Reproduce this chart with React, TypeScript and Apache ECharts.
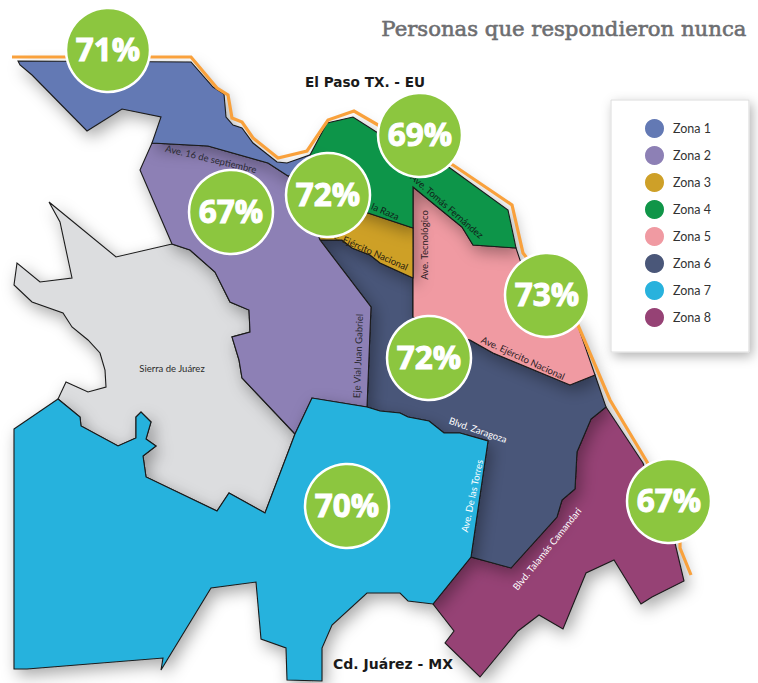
import React, { useEffect, useRef } from "react";
import * as echarts from "echarts";

type P = [number, number];

const zoneNames = ["Zona 1", "Zona 2", "Zona 3", "Zona 4", "Zona 5", "Zona 6", "Zona 7", "Zona 8"];
const zoneColors = ["#6379B4", "#8D80B5", "#CEA028", "#109548", "#F09AA2", "#4A5779", "#28B2DD", "#964275"];
const zonePercents = [71, 67, 72, 69, 73, 72, 70, 67];
const bubbleCenters: P[] = [[108, 50], [231, 212], [328, 195], [420, 135], [547, 295], [429, 358], [347, 506], [669, 501]];

const zone1Outline: P[] = [[18, 61], [191, 62], [213, 87], [224, 94], [226, 117], [233, 125], [242, 128], [253, 143], [277, 162], [287, 163], [310, 155], [320, 165], [288, 176], [268, 163], [208, 146], [152, 143], [161, 117], [122, 109], [87, 131], [32, 75], [20, 65]];
const zone2Outline: P[] = [[152, 143], [208, 146], [268, 163], [288, 176], [300, 190], [320, 240], [371, 307], [367, 407], [312, 398], [295, 434], [242, 378], [239, 360], [232, 337], [250, 332], [249, 310], [230, 302], [215, 272], [190, 250], [172, 244], [140, 170]];
const zone3Outline: P[] = [[320, 240], [342, 240], [352, 248], [370, 255], [380, 263], [413, 278], [413, 228], [368, 213], [330, 200], [310, 215]];
const zone4Outline: P[] = [[310, 155], [327, 123], [353, 117], [378, 133], [420, 150], [450, 168], [508, 210], [516, 248], [473, 245], [462, 227], [413, 187], [413, 228], [368, 213], [330, 200], [300, 180]];
const zone5Outline: P[] = [[413, 187], [462, 227], [473, 245], [516, 248], [525, 275], [577, 323], [595, 375], [570, 385], [493, 353], [470, 340], [430, 330], [413, 317]];
const zone6Outline: P[] = [[320, 240], [342, 240], [352, 248], [370, 255], [380, 263], [413, 278], [413, 317], [430, 330], [470, 340], [493, 353], [570, 385], [595, 375], [606, 407], [591, 419], [577, 452], [575, 489], [562, 500], [557, 517], [511, 568], [471, 557], [488, 441], [460, 433], [444, 433], [429, 421], [408, 417], [400, 413], [380, 411], [367, 407], [371, 307]];
const zone7Outline: P[] = [[14, 429], [58, 399], [80, 417], [81, 426], [118, 446], [136, 438], [136, 417], [141, 412], [151, 422], [146, 439], [156, 446], [143, 456], [146, 477], [217, 511], [229, 493], [265, 513], [295, 434], [312, 398], [367, 407], [380, 411], [400, 413], [408, 417], [429, 421], [444, 433], [460, 433], [488, 441], [471, 557], [433, 604], [408, 601], [400, 593], [367, 593], [332, 625], [322, 648], [322, 681], [287, 680], [286, 648], [261, 639], [256, 582], [211, 588], [161, 670], [163, 658], [27, 669], [14, 669]];
const zone8Outline: P[] = [[471, 557], [511, 568], [557, 517], [562, 500], [575, 489], [577, 452], [591, 419], [606, 407], [643, 463], [660, 510], [675, 543], [684, 581], [652, 597], [641, 604], [614, 560], [586, 573], [563, 629], [539, 615], [518, 631], [480, 677], [445, 643], [454, 631], [433, 604]];
const sierraOutline: P[] = [[49, 202], [60, 222], [72, 278], [40, 282], [17, 263], [14, 285], [32, 302], [63, 313], [72, 327], [88, 340], [100, 353], [105, 370], [106, 387], [88, 392], [66, 382], [58, 399], [80, 417], [81, 426], [118, 446], [136, 438], [136, 417], [141, 412], [151, 422], [146, 439], [156, 446], [143, 456], [146, 477], [217, 511], [229, 493], [265, 513], [295, 434], [242, 378], [239, 360], [232, 337], [250, 332], [249, 310], [230, 302], [215, 272], [190, 250], [172, 244], [116, 257]];
const borderLine: P[] = [[12, 57], [191, 57], [217, 88], [228, 95], [232, 118], [242, 122], [253, 138], [278, 158], [307, 151], [328, 120], [354, 111], [378, 125], [453, 165], [512, 205], [523, 253], [578, 325], [610, 400], [647, 462], [680, 540], [680, 548], [691, 575]];

const streetLabels: { text: string; x: number; y: number; angle: number; color: string }[] = [
  { text: "Ave. 16 de septiembre", x: 211, y: 159, angle: 13.4, color: "#2b2b33" },
  { text: "Ave. Tomás Fernández", x: 447, y: 206, angle: 41, color: "#10231a" },
  { text: "Ave. de la Raza", x: 370, y: 205, angle: 22.8, color: "#10231a" },
  { text: "Ave. Ejército Nacional", x: 366, y: 249, angle: 24, color: "#2a2110" },
  { text: "Ave. Tecnológico", x: 424, y: 245, angle: -90, color: "#2b2024" },
  { text: "Eje Vial Juan Gabriel", x: 358, y: 356, angle: -88, color: "#2b2b33" },
  { text: "Ave. Ejército Nacional", x: 523, y: 358, angle: 24.7, color: "#2b2024" },
  { text: "Blvd. Zaragoza", x: 478, y: 430, angle: 18.9, color: "#ffffff" },
  { text: "Ave. De las Torres", x: 472, y: 496, angle: -78, color: "#ffffff" },
  { text: "Blvd. Talamás Camandari", x: 547, y: 549, angle: -51, color: "#ffffff" },
  { text: "Sierra de Juárez", x: 172, y: 368, angle: 0, color: "#2b2b2b" },
];

const toGeo = (pts: P[]): P[] => pts.map(([x, y]) => [x, -y] as P);
const ring = (pts: P[]) => {
  const g = toGeo(pts);
  return [[...g, g[0]]];
};

const regionOrder: { name: string; outline: P[]; color: string }[] = [
  { name: "Sierra de Juárez", outline: sierraOutline, color: "#DCDDDF" },
  { name: zoneNames[7], outline: zone8Outline, color: zoneColors[7] },
  { name: zoneNames[5], outline: zone6Outline, color: zoneColors[5] },
  { name: zoneNames[4], outline: zone5Outline, color: zoneColors[4] },
  { name: zoneNames[2], outline: zone3Outline, color: zoneColors[2] },
  { name: zoneNames[3], outline: zone4Outline, color: zoneColors[3] },
  { name: zoneNames[1], outline: zone2Outline, color: zoneColors[1] },
  { name: zoneNames[0], outline: zone1Outline, color: zoneColors[0] },
  { name: zoneNames[6], outline: zone7Outline, color: zoneColors[6] },
];

const geoJson = {
  type: "FeatureCollection",
  features: regionOrder.map((r) => ({
    type: "Feature",
    properties: { name: r.name },
    geometry: { type: "Polygon", coordinates: ring(r.outline) },
  })),
};

const FONT = "Lato";

export default function App() {
  const ref = useRef<HTMLDivElement>(null);
  useEffect(() => {
    if (!ref.current) return;
    echarts.registerMap("juarez", geoJson as any);
    const chart = echarts.init(ref.current, undefined, { renderer: "svg" });
    const shadow = { shadowColor: "rgba(0,0,0,0.34)", shadowBlur: 16, shadowOffsetX: 4, shadowOffsetY: 6 };
    chart.setOption({
      animation: false,
      backgroundColor: "#ffffff",
      tooltip: { show: false },
      title: {
        text: "Personas que respondieron nunca",
        right: 11,
        top: 18,
        padding: 0,
        textStyle: {
          fontFamily: "DejaVu Serif",
          fontWeight: "normal",
          fontSize: 21.2,
          color: "#6D6E71",
          textBorderColor: "#6D6E71",
          textBorderWidth: 0.6,
        },
      },
      legend: {
        orient: "vertical",
        left: 611,
        top: 100,
        padding: [17, 38, 23, 32],
        width: 68,
        itemWidth: 21,
        itemHeight: 21,
        itemGap: 4,
        icon: "circle",
        selectedMode: false,
        backgroundColor: "#ffffff",
        borderColor: "#dcdcdc",
        borderWidth: 1,
        shadowColor: "rgba(0,0,0,0.3)",
        shadowBlur: 12,
        shadowOffsetX: 3,
        shadowOffsetY: 4,
        textStyle: { fontFamily: FONT, fontSize: 12.5, color: "#333333", padding: [0, 0, 0, 3] },
        data: zoneNames.map((name, i) => ({ name, itemStyle: { color: zoneColors[i] } })),
      },
      geo: {
        map: "juarez",
        roam: false,
        silent: true,
        aspectScale: 1,
        boundingCoords: [[0, 0], [758, -683]],
        left: 0,
        top: 0,
        width: 758,
        height: 683,
        label: { show: false },
        itemStyle: { borderColor: "#1a1a1a", borderWidth: 1.1, ...shadow },
        emphasis: { disabled: true },
        regions: regionOrder.map((r) => ({
          name: r.name,
          itemStyle: { areaColor: r.color, borderColor: "#1a1a1a", borderWidth: 1.1, ...shadow },
        })),
      },
      series: [
        {
          type: "lines",
          coordinateSystem: "geo",
          polyline: true,
          silent: true,
          z: 1,
          lineStyle: { color: "#F9A13C", width: 3.2, opacity: 1, join: "miter" },
          data: [{ coords: toGeo(borderLine) }],
        },
        ...zoneNames.map((name, i) => ({
          type: "scatter",
          name,
          coordinateSystem: "geo",
          silent: true,
          z: 5,
          symbol: "circle",
          symbolSize: 84,
          itemStyle: { color: "#8CC63F", borderColor: "#ffffff", borderWidth: 2.5, opacity: 1 },
          label: {
            show: true,
            position: "inside",
            offset: [0, -2],
            formatter: (p: any) => `${p.value[2]}%`,
            fontFamily: "Open Sans",
            fontWeight: "bold",
            fontSize: 31.5,
            color: "#ffffff",
            textBorderColor: "#ffffff",
            textBorderWidth: 1,
          },
          data: [[bubbleCenters[i][0], -bubbleCenters[i][1], zonePercents[i]]],
        })),
      ],
      graphic: [
        ...streetLabels.map((s) => ({
          type: "text",
          x: s.x,
          y: s.y,
          rotation: (-s.angle * Math.PI) / 180,
          z: 3,
          silent: true,
          style: {
            text: s.text,
            fontFamily: FONT,
            fontSize: 9.5,
            fill: s.color,
            textAlign: "center",
            textVerticalAlign: "middle",
          },
        })),
        {
          type: "text",
          x: 365,
          y: 82,
          z: 6,
          style: { text: "El Paso TX. - EU", fontFamily: "DejaVu Sans", fontWeight: "bold", fontSize: 13.6, fill: "#1a1a1a", textAlign: "center", textVerticalAlign: "middle" },
        },
        {
          type: "text",
          x: 393,
          y: 664,
          z: 6,
          style: { text: "Cd. Juárez - MX", fontFamily: "DejaVu Sans", fontWeight: "bold", fontSize: 14, fill: "#1a1a1a", textAlign: "center", textVerticalAlign: "middle" },
        },
      ],
    });
    return () => chart.dispose();
  }, []);
  return <div ref={ref} style={{ position: "absolute", left: 0, top: 0, width: 758, height: 683 }} />;
}
